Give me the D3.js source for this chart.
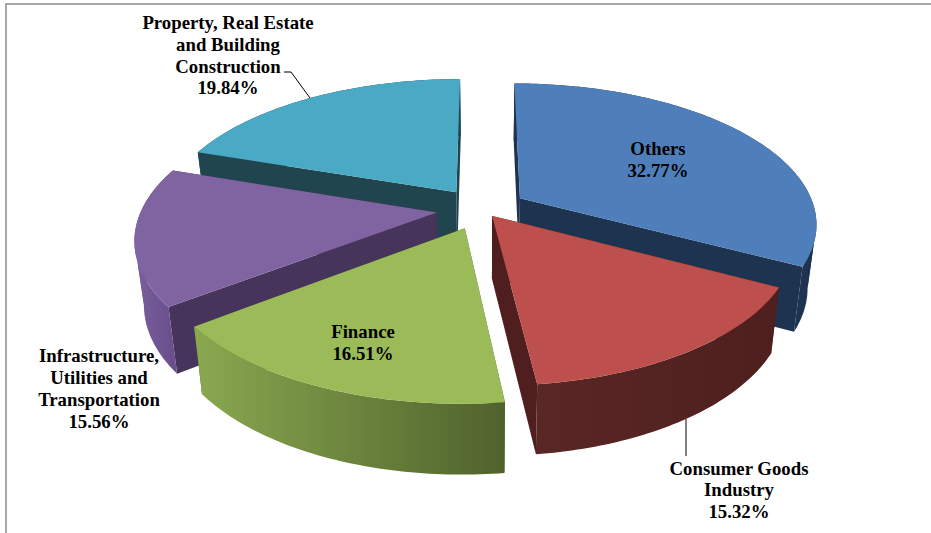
<!DOCTYPE html>
<html>
<head>
<meta charset="utf-8">
<script src="https://cdn.jsdelivr.net/npm/d3@7"></script>
<style>
html,body{margin:0;padding:0;background:#fff;overflow:hidden}
svg{display:block}
text{font-family:"Liberation Serif","Times New Roman",serif;font-weight:bold;font-size:18.8px;fill:#000}
</style>
</head>
<body>
<div id="chart"></div>
<script>
// Data, in pie order (clockwise from twelve o'clock)
const categories = ["Others", "Consumer Goods Industry", "Finance", "Infrastructure, Utilities and Transportation", "Property, Real Estate and Building Construction"];
const values = [32.77, 15.32, 16.51, 15.56, 19.84];
const labelLines = [["Others"], ["Consumer Goods", "Industry"], ["Finance"], ["Infrastructure,", "Utilities and", "Transportation"], ["Property, Real Estate", "and Building", "Construction"]];
// How far each slice is pulled out, as a share of the radius
const explosion = [0.152, 0.06, 0.147, 0.155, 0.152];
// Styles
const topColors = ["#4f7fbb", "#bd4f4c", "#9bbb59", "#8064a2", "#4aa9c4"];
const cutColors = ["#1e334f", "#4e1f1e", "#4f602c", "#47345a", "#20454f"];
const rimRight = ["#1e334f", "#4e1f1e", "#4f622c", "#684f8b", "#20454f"];
const rimLeft = ["#1e334f", "#592725", "#8aa850", "#7b5f9e", "#20454f"];
const paintOrder = [4, 0, 3, 1, 2];
const labelBoxes = [
  {x: 658, y: 155}, {x: 739, y: 474.5}, {x: 363, y: 338}, {x: 99, y: 362}, {x: 228, y: 28.7}
];

const W = 931, H = 533;
const svg = d3.select("#chart").append("svg").attr("width", W).attr("height", H);
const defs = svg.append("defs");

// Chart frame
svg.append("path").attr("d", "M6,533V4H931").attr("fill", "none").attr("stroke", "#8c8c8c").attr("stroke-width", 1.5);

// Perspective projection of the tilted disc
const sx = d3.scaleLinear().domain([-1, 1]).range([187, 777]);
const sy = d3.scaleLinear().domain([-1, 1]).range([71, 347]);
const persp = 0.172;
function project(X, V) {
  const s = 1 / (1 - persp * V);
  return [sx(0) + (sx(X) - sx(0)) * s, sy(0) + (sy(V) - sy(0)) * s];
}
function lower(p) {
  return [487 + (p[0] - 487) * 0.973, p[1] * 1.043 + 53.5];
}

const pie = d3.pie().sort(null).startAngle(0).endAngle(2 * Math.PI);
const arcs = pie(values);
const path = d3.line();

const slices = arcs.map((a, i) => {
  const mid = (a.startAngle + a.endAngle) / 2;
  const ox = Math.sin(mid) * explosion[i], ov = -Math.cos(mid) * explosion[i];
  const n = Math.max(8, Math.round((a.endAngle - a.startAngle) * 180 / Math.PI));
  const rim = d3.range(n + 1).map(k => {
    const t = a.startAngle + (a.endAngle - a.startAngle) * k / n;
    return project(ox + Math.sin(t), ov - Math.cos(t));
  });
  return {i, apex: project(ox, ov), rim};
});

const g = svg.append("g");
paintOrder.forEach(i => {
  const s = slices[i];
  const sl = g.append("g").attr("class", "slice");
  const first = s.rim[0], last = s.rim[s.rim.length - 1];
  const [minX, maxX] = d3.extent(s.rim, p => p[0]);
  const grad = defs.append("linearGradient").attr("id", "rim" + i)
    .attr("gradientUnits", "userSpaceOnUse")
    .attr("x1", maxX).attr("y1", 0).attr("x2", minX).attr("y2", 0);
  grad.append("stop").attr("offset", 0).attr("stop-color", rimRight[i]);
  grad.append("stop").attr("offset", 1).attr("stop-color", rimLeft[i]);
  [first, last].forEach(p => {
    const poly = [s.apex, p, lower(p), lower(s.apex)];
    sl.append("path").attr("d", path(poly) + "Z").attr("fill", cutColors[i]);
  });
  // The outer wall is cut at the left and right silhouette points so it never folds over itself
  const xs = s.rim.map(p => p[0]);
  const cuts = Array.from(new Set([0, d3.minIndex(xs), d3.maxIndex(xs), s.rim.length - 1])).sort(d3.ascending);
  d3.pairs(cuts).forEach(([from, to]) => {
    const run = s.rim.slice(from, to + 1);
    const wall = [...run, ...run.map(lower).reverse()];
    sl.append("path").attr("d", path(wall) + "Z").attr("fill", "url(#rim" + i + ")");
  });
  sl.append("path").attr("d", path([s.apex, ...s.rim]) + "Z").attr("fill", topColors[i]);
});

// Leader lines
svg.append("path").attr("d", "M284,72H291L310,98").attr("fill", "none").attr("stroke", "#000").attr("stroke-width", 1);
svg.append("path").attr("d", "M686,419V456").attr("fill", "none").attr("stroke", "#000").attr("stroke-width", 1);

// Labels
const lineGap = 21.9;
labelLines.forEach((lines, i) => {
  const all = [...lines, d3.format(".2f")(values[i]) + "%"];
  const t = svg.append("text").attr("text-anchor", "middle");
  all.forEach((l, k) => {
    t.append("tspan").attr("x", labelBoxes[i].x).attr("y", labelBoxes[i].y + k * lineGap).text(l);
  });
});
</script>
</body>
</html>
